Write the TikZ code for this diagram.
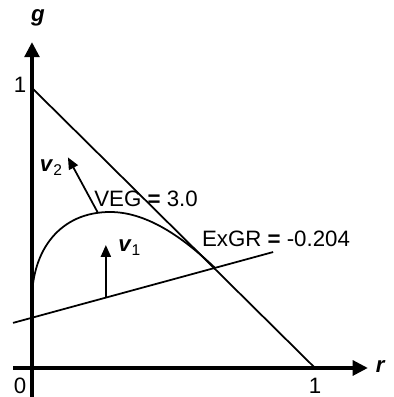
\documentclass[tikz,border=0pt]{standalone}
\usepackage{fontspec}
\setmainfont{Liberation Sans}
\usetikzlibrary{arrows.meta}
\tikzset{
  axis/.style={line width=3.4pt,-{Triangle[length=13pt,width=12.5pt]}},
  curve/.style={line width=1.5pt},
  vec/.style={line width=1.5pt,-{Triangle[length=10pt,width=8.5pt]}},
  lbl/.style={font=\fontsize{19}{21}\selectfont,inner sep=0pt}
}
\begin{document}
\begin{tikzpicture}[x=8.49cm,y=8.4cm]
\useasboundingbox (-0.113,-0.1036) rectangle (1.2756,1.314);
\draw[axis] (-0.067,0) -- (1.187,0);
\draw[axis] (0,-0.11) -- (0,1.164);
\node[lbl] (glab) at (0.021,1.25) {\textbf{\textit{g}}};
\node[lbl] (rlab) at (1.232,0.004) {\textbf{\textit{r}}};
\node[lbl] (one-g) at (-0.042,1.011) {1};
\node[lbl] (zero) at (-0.042,-0.064) {0};
\node[lbl] (one-r) at (1.0,-0.064) {1};
\draw[curve] (0,1) -- (1,0);
\draw[curve] (-0.067,0.161) -- (0.852,0.414);
\draw[curve] (0,0.243)
.. controls (0,0.421) and (0.099,0.557) .. (0.276,0.557)
.. controls (0.417,0.557) and (0.55,0.45) .. (0.647,0.357);
\coordinate (v1-base) at (0.261,0.251);
\coordinate (v1-tip) at (0.261,0.439);
\coordinate (v2-base) at (0.233,0.554);
\coordinate (v2-tip) at (0.127,0.752);
\draw[vec] (v1-base) -- (v1-tip);
\draw[vec] (v2-base) -- (v2-tip);
\node[lbl] (v1lab) at (0.345,0.429) {\textbf{\textit{v}}\textsubscript{1}};
\node[lbl] (v2lab) at (0.068,0.714) {\textbf{\textit{v}}\textsubscript{2}};
\node[lbl] (veg) at (0.403,0.604) {VEG \textbf{=} 3.0};
\node[lbl] (exgr) at (0.862,0.462) {ExGR \textbf{=} -0.204};
\end{tikzpicture}
\end{document}
